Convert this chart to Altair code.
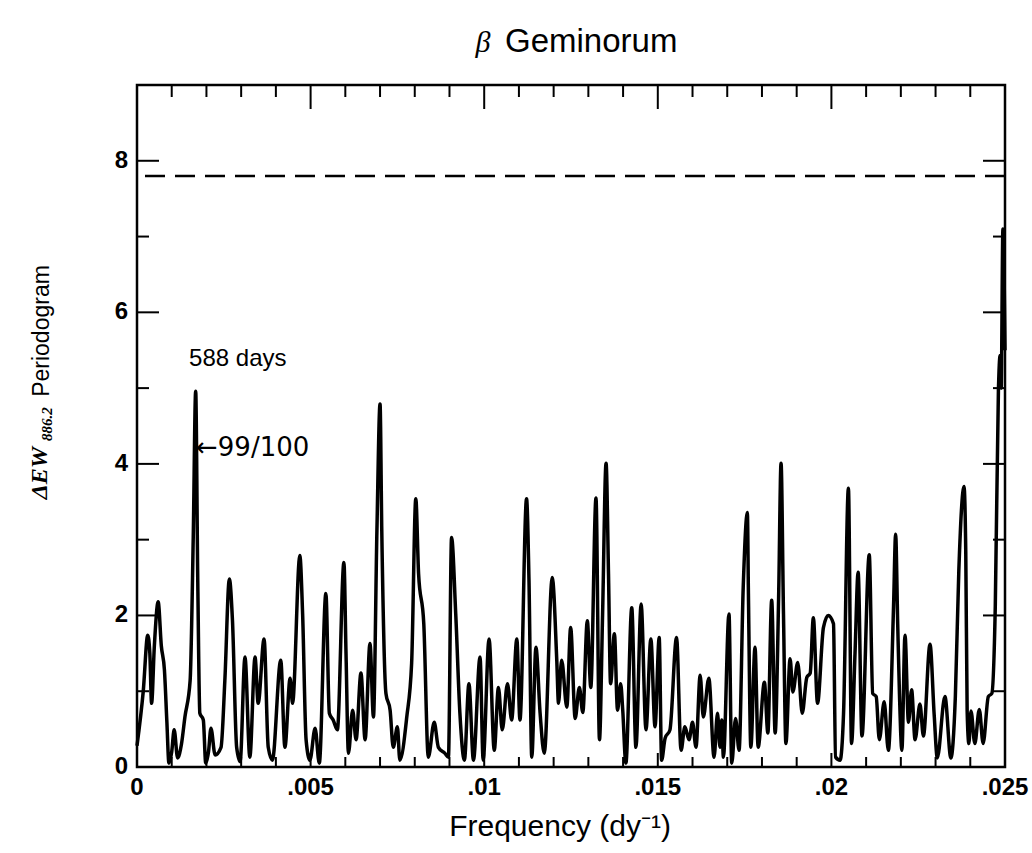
import altair as alt
import pandas as pd

# ---- periodogram trace (frequency in 1/day, power) ----
freq = [0.00000, 0.00018, 0.00031, 0.00037, 0.00042, 0.00050, 0.00061, 0.00070, 0.00079, 0.00086,
        0.00092, 0.00100, 0.00107, 0.00117, 0.00128, 0.00138, 0.00153, 0.00162, 0.00169, 0.00175,
        0.00181, 0.00191, 0.00198, 0.00206, 0.00213, 0.00225, 0.00242, 0.00253, 0.00266, 0.00275,
        0.00287, 0.00297, 0.00311, 0.00325, 0.00340, 0.00349, 0.00366, 0.00378, 0.00390, 0.00414,
        0.00426, 0.00441, 0.00448, 0.00469, 0.00477, 0.00487, 0.00498, 0.00513, 0.00525, 0.00544,
        0.00554, 0.00565, 0.00577, 0.00596, 0.00602, 0.00609, 0.00621, 0.00631, 0.00645, 0.00657,
        0.00671, 0.00681, 0.00691, 0.00700, 0.00705, 0.00717, 0.00729, 0.00738, 0.00750, 0.00757,
        0.00777, 0.00791, 0.00803, 0.00811, 0.00826, 0.00839, 0.00856, 0.00868, 0.00887, 0.00897,
        0.00906, 0.00918, 0.00930, 0.00943, 0.00956, 0.00969, 0.00988, 0.00997, 0.01014, 0.01029,
        0.01041, 0.01052, 0.01067, 0.01079, 0.01094, 0.01103, 0.01122, 0.01129, 0.01137, 0.01149,
        0.01161, 0.01173, 0.01196, 0.01209, 0.01214, 0.01223, 0.01238, 0.01249, 0.01262, 0.01274,
        0.01284, 0.01297, 0.01307, 0.01322, 0.01332, 0.01341, 0.01351, 0.01358, 0.01364, 0.01375,
        0.01384, 0.01393, 0.01399, 0.01408, 0.01425, 0.01437, 0.01452, 0.01466, 0.01480, 0.01492,
        0.01504, 0.01511, 0.01521, 0.01535, 0.01554, 0.01567, 0.01578, 0.01590, 0.01600, 0.01610,
        0.01622, 0.01631, 0.01647, 0.01662, 0.01672, 0.01679, 0.01684, 0.01689, 0.01705, 0.01713,
        0.01724, 0.01734, 0.01746, 0.01758, 0.01761, 0.01768, 0.01780, 0.01789, 0.01807, 0.01817,
        0.01828, 0.01838, 0.01848, 0.01855, 0.01862, 0.01869, 0.01881, 0.01889, 0.01903, 0.01916,
        0.01929, 0.01939, 0.01948, 0.01960, 0.01977, 0.01991, 0.02006, 0.02012, 0.02025, 0.02035,
        0.02049, 0.02058, 0.02068, 0.02077, 0.02088, 0.02109, 0.02119, 0.02129, 0.02138, 0.02152,
        0.02164, 0.02179, 0.02185, 0.02191, 0.02196, 0.02203, 0.02212, 0.02222, 0.02231, 0.02241,
        0.02255, 0.02265, 0.02284, 0.02296, 0.02305, 0.02327, 0.02344, 0.02357, 0.02367, 0.02382,
        0.02387, 0.02391, 0.02396, 0.02402, 0.02413, 0.02426, 0.02437, 0.02452, 0.02462, 0.02472,
        0.02481, 0.02486, 0.02489, 0.02494, 0.02500]
power = [0.28, 1.00, 1.74, 1.50, 0.84, 1.60, 2.18, 1.60, 1.28, 0.60,
         0.05, 0.20, 0.49, 0.12, 0.30, 0.66, 1.14, 3.03, 4.96, 2.46,
         0.71, 0.62, 0.05, 0.20, 0.51, 0.16, 0.26, 1.14, 2.48, 1.93,
         0.26, 0.07, 1.45, 0.13, 1.45, 0.84, 1.69, 0.26, 0.09, 1.41,
         0.26, 1.17, 0.84, 2.79, 2.02, 0.36, 0.09, 0.51, 0.05, 2.29,
         0.71, 0.62, 0.49, 2.70, 1.50, 0.18, 0.75, 0.36, 1.24, 0.36,
         1.63, 0.66, 3.12, 4.79, 3.12, 0.97, 0.75, 0.26, 0.53, 0.09,
         0.66, 1.37, 3.54, 2.55, 1.89, 0.13, 0.59, 0.26, 0.18, 0.13,
         3.03, 2.02, 0.71, 0.09, 1.10, 0.09, 1.45, 0.09, 1.69, 0.22,
         1.05, 0.49, 1.10, 0.62, 1.69, 0.62, 3.54, 2.46, 0.13, 1.58,
         0.71, 0.18, 2.50, 1.41, 0.84, 1.41, 0.79, 1.84, 0.64, 1.05,
         0.72, 1.93, 1.05, 3.55, 0.36, 2.02, 4.01, 2.55, 1.10, 1.76,
         0.75, 1.10, 0.75, 0.05, 2.10, 0.26, 2.15, 0.49, 1.69, 0.53,
         1.71, 0.09, 0.38, 0.49, 1.71, 0.22, 0.53, 0.36, 0.59, 0.26,
         1.21, 0.66, 1.17, 0.13, 0.71, 0.26, 0.62, 0.13, 2.02, 0.05,
         0.64, 0.22, 2.37, 3.36, 2.29, 0.26, 1.58, 0.26, 1.12, 0.45,
         2.20, 0.45, 2.24, 4.01, 2.02, 0.31, 1.43, 0.99, 1.38, 0.71,
         1.18, 1.24, 1.97, 0.84, 1.84, 2.00, 1.89, 0.13, 0.09, 0.71,
         3.68, 0.31, 1.50, 2.57, 0.41, 2.80, 0.97, 0.93, 0.36, 0.86,
         0.22, 2.12, 3.07, 1.88, 0.97, 0.22, 1.74, 0.59, 1.02, 0.36,
         0.83, 0.41, 1.62, 0.69, 0.12, 0.93, 0.12, 0.93, 2.59, 3.70,
         2.83, 0.74, 0.31, 0.74, 0.31, 0.76, 0.31, 0.93, 0.97, 2.12,
         4.96, 5.43, 5.00, 7.10, 5.50]

# ---- axes / reference values ----
x_major = [0, 0.005, 0.01, 0.015, 0.02, 0.025]
x_labels = ["0", ".005", ".01", ".015", ".02", ".025"]
x_minor = [0.001, 0.002, 0.003, 0.004, 0.006, 0.007, 0.008, 0.009,
           0.011, 0.012, 0.013, 0.014, 0.016, 0.017, 0.018, 0.019,
           0.021, 0.022, 0.023, 0.024]
y_major = [0, 2, 4, 6, 8]
y_labels = ["0", "2", "4", "6", "8"]
y_minor = [1, 3, 5, 7]
threshold = [7.8]

ann1_text = ["588 days"]
ann1_f = [0.00150]
ann1_p = [5.38]
ann2_text = ["\u219099/100"]
ann2_f = [0.00170]
ann2_p = [4.21]

W, H = 868, 682
SANS = "Liberation Sans, Arial, Helvetica, sans-serif"
DEJAVU = "DejaVu Sans, sans-serif"
SERIF = "Liberation Serif, Times New Roman, serif"

xs = alt.Scale(domain=[0, 0.025], nice=False, zero=False)
ys = alt.Scale(domain=[0, 9], nice=False)

df = pd.DataFrame({"f": freq, "p": power})

line = alt.Chart(df).mark_line(color="black", strokeWidth=3.5, strokeJoin="round",
                               interpolate="monotone").encode(
    x=alt.X("f:Q", scale=xs, axis=None),
    y=alt.Y("p:Q", scale=ys, axis=None),
)

def xticks(vals, y0, y1):
    return alt.Chart(pd.DataFrame({"t": vals})).mark_rule(color="black", strokeWidth=2).encode(
        x=alt.X("t:Q", scale=xs, axis=None), y=alt.value(y0), y2=alt.value(y1))

def yticks(vals, x0, x1):
    return alt.Chart(pd.DataFrame({"t": vals})).mark_rule(color="black", strokeWidth=2).encode(
        y=alt.Y("t:Q", scale=ys, axis=None), x=alt.value(x0), x2=alt.value(x1))

ticks = [
    xticks(x_major, 0, 24), xticks(x_minor, 0, 12),
    xticks(x_major, H, H - 14), xticks(x_minor, H, H - 10),
    yticks(y_major, 0, 22), yticks(y_minor, 0, 12),
    yticks(y_major, W, W - 22), yticks(y_minor, W, W - 12),
]

xlab = alt.Chart(pd.DataFrame({"t": x_major, "s": x_labels})).mark_text(
    align="center", baseline="top", font=SANS, fontSize=24, fontWeight="bold", color="black").encode(
    x=alt.X("t:Q", scale=xs, axis=None), y=alt.value(H + 9), text="s:N")

ylab = alt.Chart(pd.DataFrame({"t": y_major, "s": y_labels})).mark_text(
    align="right", baseline="middle", font=SANS, fontSize=24, fontWeight="bold", color="black").encode(
    y=alt.Y("t:Q", scale=ys, axis=None), x=alt.value(-9), text="s:N")

dash = alt.Chart(pd.DataFrame({"t": threshold})).mark_rule(
    color="black", strokeWidth=2.5, strokeDash=[20, 10]).encode(
    y=alt.Y("t:Q", scale=ys, axis=None))

ann1 = alt.Chart(pd.DataFrame({"s": ann1_text, "f": ann1_f, "p": ann1_p})).mark_text(
    align="left", baseline="middle", font=SANS, fontSize=24, color="black").encode(
    x=alt.X("f:Q", scale=xs, axis=None), y=alt.Y("p:Q", scale=ys, axis=None), text="s:N")

ann2 = alt.Chart(pd.DataFrame({"s": ann2_text, "f": ann2_f, "p": ann2_p})).mark_text(
    align="left", baseline="middle", font=DEJAVU, fontSize=26, color="black").encode(
    x=alt.X("f:Q", scale=xs, axis=None), y=alt.Y("p:Q", scale=ys, axis=None), text="s:N")

def label(txt, x, y, **kw):
    return alt.Chart(pd.DataFrame({"s": [txt]})).mark_text(color="black", **kw).encode(
        text="s:N", x=alt.value(x), y=alt.value(y))

texts = [
    label("\u03b2", 346, -33, font=SERIF, fontStyle="italic", fontSize=30, align="center", baseline="alphabetic"),
    label("Geminorum", 368, -33, font=SANS, fontSize=33, align="left", baseline="alphabetic"),
    label("Frequency  (dy\u207b\u00b9)", 423, 751, font=SANS, fontSize=30, align="center", baseline="alphabetic"),
    label("\u0394EW", -97, 388, font=SERIF, fontStyle="italic", fontWeight="bold", fontSize=24,
          angle=270, align="center", baseline="middle"),
    label("886.2", -90, 339, font=SERIF, fontStyle="italic", fontWeight="bold", fontSize=15,
          angle=270, align="center", baseline="middle"),
    label("Periodogram", -95, 246, font=SANS, fontSize=23, angle=270, align="center", baseline="middle"),
]

chart = alt.layer(line, dash, ann1, ann2, xlab, ylab, *ticks, *texts).properties(
    width=W, height=H,
    autosize=alt.AutoSizeParams(type="none"),
    padding={"left": 137, "top": 85, "right": 27, "bottom": 86},
    background="white",
).configure_view(stroke="black", strokeWidth=2.5)

chart.save("out.html", embed_options={"renderer": "svg", "actions": False})
